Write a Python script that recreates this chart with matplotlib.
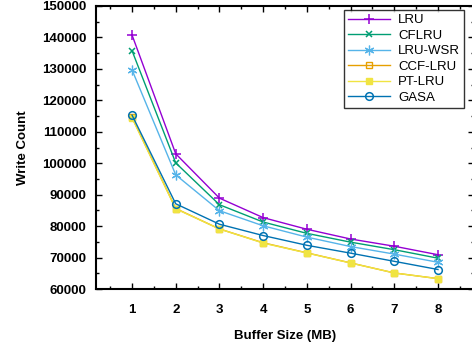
import matplotlib
matplotlib.use("Agg")
import matplotlib.pyplot as plt
from matplotlib.ticker import MultipleLocator

plt.rcParams['font.family'] = ['Liberation Sans', 'DejaVu Sans']

buffer_sizes = [1, 2, 3, 4, 5, 6, 7, 8]
lru = [140800, 103000, 88900, 82700, 79000, 75900, 73600, 70900]
cflru = [135800, 100100, 86800, 81300, 77700, 74900, 72500, 69800]
lru_wsr = [129700, 96300, 84900, 80100, 76500, 73500, 71100, 68500]
ccf_lru = [114600, 85600, 79100, 74700, 71500, 68300, 65100, 63300]
pt_lru = [114400, 85500, 79100, 74600, 71450, 68270, 65100, 63280]
gasa = [115300, 87100, 80600, 77000, 73900, 71400, 68800, 66200]

series = [
    ("LRU", lru, "#9400d3", dict(marker="+", markersize=7, mew=1.1)),
    ("CFLRU", cflru, "#009e73", dict(marker="x", markersize=4.5, mew=1.1)),
    ("LRU-WSR", lru_wsr, "#56b4e9", dict(marker=(6, 2, 0), markersize=7, mew=0.9)),
    ("CCF-LRU", ccf_lru, "#e69f00", dict(marker="s", markersize=4.5, mfc="none", mew=1.0)),
    ("PT-LRU", pt_lru, "#f0e442", dict(marker="s", markersize=5)),
    ("GASA", gasa, "#0072b2", dict(marker="o", markersize=5.5, mfc="none", mew=1.1)),
]

fig = plt.figure(figsize=(4.72, 3.5), dpi=100)
ax = fig.add_axes([96/472, 61/350, 378/472, 283/350])

for name, vals, color, mk in series:
    ax.plot(buffer_sizes, vals, color=color, lw=1.0, label=name, **mk)

ax.set_xlim(0.176, 8.824)
ax.set_ylim(60000, 150000)
ax.set_xticks(buffer_sizes)
ax.xaxis.set_minor_locator(MultipleLocator(0.5))
ax.yaxis.set_major_locator(MultipleLocator(10000))
ax.yaxis.set_minor_locator(MultipleLocator(5000))
ax.tick_params(which="both", direction="in", top=True, right=True, width=1.0)
ax.tick_params(which="major", length=4, labelsize=9.5)
ax.tick_params(axis="y", which="major", pad=7)
ax.tick_params(axis="x", which="major", pad=11)
ax.tick_params(which="minor", length=2)
for lab in ax.get_xticklabels() + ax.get_yticklabels():
    lab.set_fontweight("bold")
for sp in ax.spines.values():
    sp.set_linewidth(1.5)

ax.set_xlabel("Buffer Size (MB)", fontsize=9.5, fontweight="bold", labelpad=10)
ax.set_ylabel("Write Count", fontsize=9.5, fontweight="bold", labelpad=9)

leg = ax.legend(loc="upper right", bbox_to_anchor=(464/472 * 472/378 - 96/378, 1 - 4/283),
                fontsize=9.5, frameon=True, fancybox=False, edgecolor="black",
                borderpad=0.3, labelspacing=0.25, handlelength=3.2, handletextpad=0.6,
                borderaxespad=0)
leg.get_frame().set_linewidth(1.0)

fig.savefig("out.png", dpi=100)
